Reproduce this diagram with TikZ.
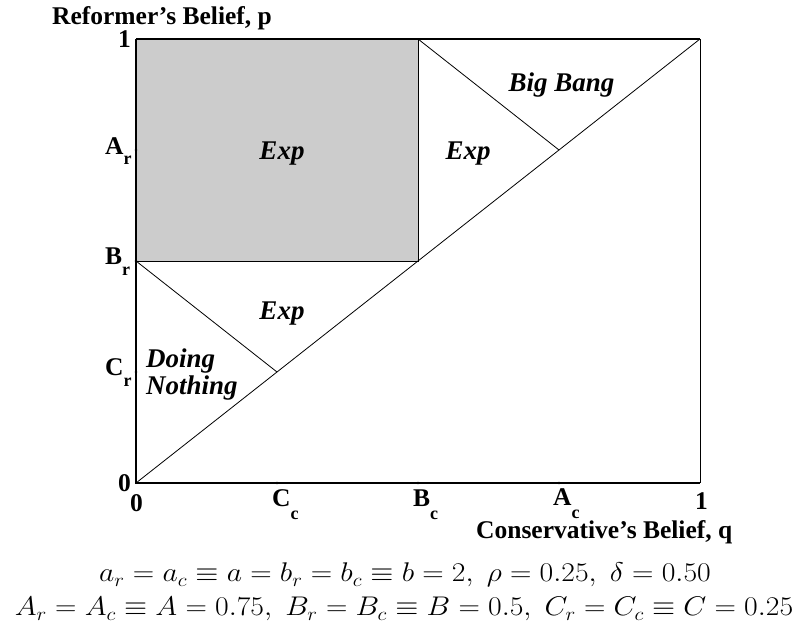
\RequirePackage{fix-cm}
\documentclass[tikz,border=0pt]{standalone}
\usepackage[no-math]{fontspec}
\setmainfont{Liberation Serif}
\newcommand\lsub[3]{#1\raisebox{-#3}{\fontsize{18}{18}\selectfont #2}}
\begin{document}
\begin{tikzpicture}[x=1pt,y=1pt,
  lbl/.style={font=\fontsize{25.5}{28}\selectfont\bfseries, inner sep=0pt},
  reg/.style={font=\fontsize{27}{28}\selectfont\bfseries\itshape, inner sep=0pt},
  eq/.style={font=\fontsize{27}{30}\selectfont, inner sep=0pt},
  thinline/.style={line width=0.8pt},
  axisline/.style={line width=1.8pt},
  tickdot/.style={circle, fill=black, inner sep=0pt, minimum size=2.6pt},
  shade/.style={fill=black!20}]
\useasboundingbox (0,0) rectangle (803,626);
\begin{scope}[shift={(136,143)}, x=564pt, y=444pt]
  \coordinate (O) at (0,0);
  \coordinate (X1) at (1,0);
  \coordinate (Y1) at (0,1);
  \coordinate (TR) at (1,1);
  \coordinate (Bp) at (0,0.5);
  \coordinate (Bq) at (0.5,1);
  \coordinate (Mid) at (0.5,0.5);
  \coordinate (Cd) at (0.25,0.25);
  \coordinate (Ad) at (0.75,0.75);
  \fill[shade] (Bp) rectangle (Bq);
  \draw[thinline] (Bp) -- (Mid) -- (Bq);
  \draw[thinline] (O) -- (TR);
  \draw[thinline] (Bp) -- (Cd);
  \draw[thinline] (Bq) -- (Ad);
  \draw[line width=1pt] (X1) -- (TR);
  \draw[line width=1.4pt] (Y1) -- (TR);
  \draw[axisline] (Y1) -- (O) -- (X1);
  \node[tickdot] (tx1) at (0.25,0) {};
  \node[tickdot] (tx2) at (0.5,0) {};
  \node[tickdot] (tx3) at (0.75,0) {};
  \node[tickdot] (ty1) at (0,0.25) {};
  \node[tickdot] (ty2) at (0,0.5) {};
  \node[tickdot] (ty3) at (0,0.75) {};
\end{scope}
% axis labels
\node[lbl, anchor=base west] (ytitle) at (52,601) {Reformer’s Belief, p};
\node[lbl, anchor=base west] (y1) at (118,578) {1};
\node[lbl, anchor=base west] (yA) at (105,471) {\lsub{A}{r}{10pt}};
\node[lbl, anchor=base west] (yB) at (105,361) {\lsub{B}{r}{11pt}};
\node[lbl, anchor=base west] (yC) at (105,250) {\lsub{C}{r}{11pt}};
\node[lbl, anchor=base west] (y0) at (118,134) {0};
\node[lbl, anchor=base west] (x0) at (130,114) {0};
\node[lbl, anchor=base west] (xC) at (272,119) {\lsub{C}{c}{13pt}};
\node[lbl, anchor=base west] (xB) at (413,119) {\lsub{B}{c}{13pt}};
\node[lbl, anchor=base west] (xA) at (553,120) {\lsub{A}{c}{13pt}};
\node[lbl, anchor=base west] (x1) at (695,116) {1};
\node[lbl, anchor=base west] (xtitle) at (476,87) {Conservative’s Belief, q};
% region labels
\node[reg, anchor=base] (exp1) at (282,466) {Exp};
\node[reg, anchor=base] (exp2) at (468,466) {Exp};
\node[reg, anchor=base] (bigbang) at (561.5,534) {Big Bang};
\node[reg, anchor=base] (exp3) at (282,306) {Exp};
\node[reg, anchor=base west] (doing) at (146,258) {Doing};
\node[reg, anchor=base west] (nothing) at (146,231) {Nothing};
% parameters
\node[eq, anchor=base] (eq1) at (405,44) {\scalebox{1.1}[1]{$a_r = a_c \equiv a = b_r = b_c \equiv b = 2,\; \rho = 0.25,\; \delta = 0.50$}};
\node[eq, anchor=base] (eq2) at (404,10) {\scalebox{1.1}[1]{$A_r = A_c \equiv A = 0.75,\; B_r = B_c \equiv B = 0.5,\; C_r = C_c \equiv C = 0.25$}};
\end{tikzpicture}
\end{document}
